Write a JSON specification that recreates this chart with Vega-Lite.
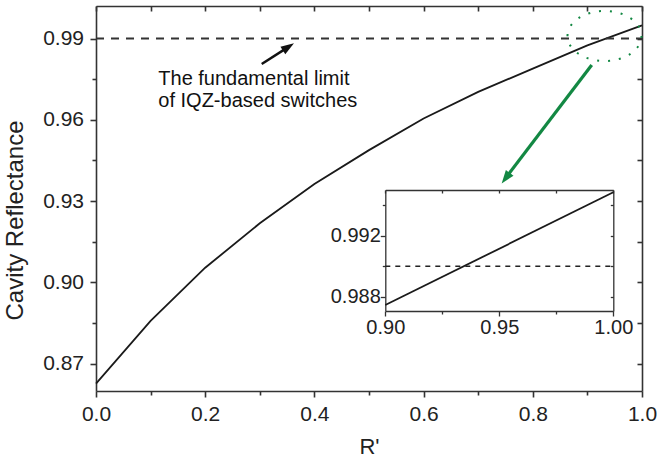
{
  "$schema": "https://vega.github.io/schema/vega-lite/v6.json",
  "autosize": {"type": "none"},
  "padding": {"left": 96, "top": 6, "right": 17, "bottom": 68},
  "width": 546,
  "height": 385,
  "background": "white",
  "config": {
    "view": {"stroke": null},
    "axis": {
      "grid": false,
      "labelFont": "Liberation Sans",
      "titleFont": "Liberation Sans",
      "titleFontWeight": "normal",
      "labelColor": "#222222",
      "titleColor": "#222222",
      "domainColor": "#333333",
      "tickColor": "#333333",
      "domainWidth": 1.6,
      "tickWidth": 1.6,
      "labelFlush": false,
      "labelOverlap": false
    }
  },
  "datasets": {
    "curve": [
      {"x": 0.0, "y": 0.8626},
      {"x": 0.1, "y": 0.8858},
      {"x": 0.2, "y": 0.9054},
      {"x": 0.3, "y": 0.9218},
      {"x": 0.4, "y": 0.9363},
      {"x": 0.5, "y": 0.9488},
      {"x": 0.6, "y": 0.9605},
      {"x": 0.7, "y": 0.9703},
      {"x": 0.8, "y": 0.9789},
      {"x": 0.9, "y": 0.98745},
      {"x": 1.0, "y": 0.99485}
    ],
    "limit": [{"x": 0, "y": 0.99}, {"x": 1, "y": 0.99}],
    "insetLimit": [{"x": 0.9, "y": 0.99}, {"x": 1.0, "y": 0.99}],
    "notes": [
      {"x": 0.1141, "y": 0.97283, "t": "The fundamental limit"},
      {"x": 0.1141, "y": 0.96471, "t": "of IQZ-based switches"}
    ],
    "blackArrow": [{"x": 0.3035, "y": 0.98058}, {"x": 0.3504, "y": 0.98664}],
    "blackHead": [{"x": 0.3626, "y": 0.98823}],
    "greenArrow": [{"x": 0.9079, "y": 0.98022}, {"x": 0.7518, "y": 0.9389}],
    "greenHead": [{"x": 0.743, "y": 0.93653}],
    "ellipse": [{"x": 0.9313, "y": 0.99092}]
  },
  "resolve": {"scale": {"x": "independent", "y": "independent"}},
  "layer": [
    {
      "data": {"name": "curve"},
      "mark": {"type": "line", "color": "#1a1a1a", "strokeWidth": 1.8},
      "encoding": {
        "x": {"field": "x", "type": "quantitative",
          "scale": {"domain": [0, 1], "nice": false, "zero": false},
          "axis": {"orient": "bottom", "values": [0, 0.2, 0.4, 0.6, 0.8, 1], "format": ".1f", "tickSize": 6,
            "labelFontSize": 21, "labelBaseline": "alphabetic", "labelPadding": 23,
            "title": "R'", "titleFontSize": 22, "titleBaseline": "alphabetic", "titleY": 62.5}},
        "y": {"field": "y", "type": "quantitative",
          "scale": {"domain": [0.8599, 1.002], "nice": false, "zero": false},
          "axis": {"orient": "left", "values": [0.87, 0.9, 0.93, 0.96, 0.99], "format": ".2f", "tickSize": 6,
            "labelPadding": 6.5, "labelFontSize": 21,
            "title": "Cavity Reflectance", "titleFontSize": 24, "titleAngle": 270, "titleBaseline": "alphabetic",
            "titleAlign": "center", "titleX": -74, "titleY": 214}}
      }
    },
    {
      "data": {"name": "curve"},
      "mark": {"type": "line", "strokeOpacity": 0},
      "encoding": {
        "x": {"field": "x", "type": "quantitative",
          "scale": {"domain": [0, 1], "nice": false, "zero": false},
          "axis": {"orient": "bottom", "values": [0.1, 0.3, 0.5, 0.7, 0.9], "tickSize": 4, "labels": false, "domain": false, "title": null}},
        "y": {"field": "y", "type": "quantitative",
          "scale": {"domain": [0.8599, 1.002], "nice": false, "zero": false},
          "axis": {"orient": "left", "values": [0.885, 0.915, 0.945, 0.975], "tickSize": 4, "labels": false, "domain": false, "title": null}}
      }
    },
    {
      "data": {"name": "limit"},
      "mark": {"type": "line", "color": "#333333", "strokeWidth": 1.8, "strokeDash": [8, 7]},
      "encoding": {
        "x": {"field": "x", "type": "quantitative",
          "scale": {"domain": [0, 1], "nice": false, "zero": false},
          "axis": {"orient": "top", "values": [0, 0.1, 0.2, 0.3, 0.4, 0.5, 0.6, 0.7, 0.8, 0.9, 1], "tickSize": -5, "labels": false, "title": null}},
        "y": {"field": "y", "type": "quantitative",
          "scale": {"domain": [0.8599, 1.002], "nice": false, "zero": false},
          "axis": {"orient": "right", "values": [0.87, 0.885, 0.9, 0.915, 0.93, 0.945, 0.96, 0.975, 0.99], "tickSize": -5, "labels": false, "title": null}}
      }
    },
    {
      "data": {"name": "curve"},
      "transform": [{"filter": "datum.x >= 0.9"}],
      "mark": {"type": "line", "color": "#1a1a1a", "strokeWidth": 1.8},
      "encoding": {
        "x": {"field": "x", "type": "quantitative",
          "scale": {"domain": [0.9, 1.0], "range": [289.3, 517.3], "nice": false, "zero": false},
          "axis": {"orient": "bottom", "offset": -80, "values": [0.9, 0.95, 1.0], "format": ".2f", "tickSize": 5,
            "labelFontSize": 20, "labelBaseline": "alphabetic", "labelPadding": 17, "title": null, "domainWidth": 1.3, "tickWidth": 1.3}},
        "y": {"field": "y", "type": "quantitative",
          "scale": {"domain": [0.98706, 0.995], "range": [305, 184], "nice": false, "zero": false},
          "axis": {"orient": "left", "offset": -289.3, "values": [0.988, 0.992], "format": ".3f", "tickSize": 5,
            "labelFontSize": 20, "labelPadding": 0, "title": null, "domainWidth": 1.3, "tickWidth": 1.3}}
      }
    },
    {
      "data": {"name": "curve"},
      "transform": [{"filter": "datum.x >= 0.9"}],
      "mark": {"type": "line", "strokeOpacity": 0},
      "encoding": {
        "x": {"field": "x", "type": "quantitative",
          "scale": {"domain": [0.9, 1.0], "range": [289.3, 517.3], "nice": false, "zero": false},
          "axis": {"orient": "bottom", "offset": -80, "values": [0.925, 0.975], "tickSize": 3, "labels": false, "domain": false, "title": null, "tickWidth": 1.3}},
        "y": {"field": "y", "type": "quantitative",
          "scale": {"domain": [0.98706, 0.995], "range": [305, 184], "nice": false, "zero": false},
          "axis": {"orient": "left", "offset": -289.3, "values": [0.99, 0.994], "tickSize": 3, "labels": false, "domain": false, "title": null, "tickWidth": 1.3}}
      }
    },
    {
      "data": {"name": "insetLimit"},
      "mark": {"type": "line", "color": "#222222", "strokeWidth": 1.5, "strokeDash": [5, 5]},
      "encoding": {
        "x": {"field": "x", "type": "quantitative",
          "scale": {"domain": [0.9, 1.0], "range": [289.3, 517.3], "nice": false, "zero": false},
          "axis": {"orient": "top", "offset": -184, "values": [0.9, 0.925, 0.95, 0.975, 1.0], "tickSize": -3, "labels": false, "title": null, "domainWidth": 1.3, "tickWidth": 1.3}},
        "y": {"field": "y", "type": "quantitative",
          "scale": {"domain": [0.98706, 0.995], "range": [305, 184], "nice": false, "zero": false},
          "axis": {"orient": "right", "offset": -28.7, "values": [0.988, 0.99, 0.992, 0.994], "tickSize": -3, "labels": false, "title": null, "domainWidth": 1.3, "tickWidth": 1.3}}
      }
    },
    {
      "data": {"name": "notes"},
      "mark": {"type": "text", "align": "left", "baseline": "alphabetic", "font": "Liberation Sans", "fontSize": 20, "color": "#111111"},
      "encoding": {
        "x": {"field": "x", "type": "quantitative", "scale": {"domain": [0, 1], "nice": false, "zero": false}, "axis": null},
        "y": {"field": "y", "type": "quantitative", "scale": {"domain": [0.8599, 1.002], "nice": false, "zero": false}, "axis": null},
        "text": {"field": "t"}
      }
    },
    {
      "data": {"name": "blackArrow"},
      "mark": {"type": "line", "color": "#111111", "strokeWidth": 2.5},
      "encoding": {
        "x": {"field": "x", "type": "quantitative", "scale": {"domain": [0, 1], "nice": false, "zero": false}, "axis": null},
        "y": {"field": "y", "type": "quantitative", "scale": {"domain": [0.8599, 1.002], "nice": false, "zero": false}, "axis": null}
      }
    },
    {
      "data": {"name": "blackHead"},
      "mark": {"type": "point", "shape": "M0,0 L-0.75,2.2 L0.75,2.2 Z", "size": 144, "angle": 57.3, "filled": true, "color": "#111111", "opacity": 1, "strokeWidth": 0},
      "encoding": {
        "x": {"field": "x", "type": "quantitative", "scale": {"domain": [0, 1], "nice": false, "zero": false}, "axis": null},
        "y": {"field": "y", "type": "quantitative", "scale": {"domain": [0.8599, 1.002], "nice": false, "zero": false}, "axis": null}
      }
    },
    {
      "data": {"name": "greenArrow"},
      "mark": {"type": "line", "color": "#138843", "strokeWidth": 3.2},
      "encoding": {
        "x": {"field": "x", "type": "quantitative", "scale": {"domain": [0, 1], "nice": false, "zero": false}, "axis": null},
        "y": {"field": "y", "type": "quantitative", "scale": {"domain": [0.8599, 1.002], "nice": false, "zero": false}, "axis": null}
      }
    },
    {
      "data": {"name": "greenHead"},
      "mark": {"type": "point", "shape": "M0,0 L-0.8,2.2 L0.8,2.2 Z", "size": 144, "angle": 217.3, "filled": true, "color": "#138843", "opacity": 1, "strokeWidth": 0},
      "encoding": {
        "x": {"field": "x", "type": "quantitative", "scale": {"domain": [0, 1], "nice": false, "zero": false}, "axis": null},
        "y": {"field": "y", "type": "quantitative", "scale": {"domain": [0.8599, 1.002], "nice": false, "zero": false}, "axis": null}
      }
    },
    {
      "data": {"name": "ellipse"},
      "mark": {"type": "point", "shape": "M-1,0 A1,0.676 0 1,1 1,0 A1,0.676 0 1,1 -1,0 Z", "size": 5476, "filled": false, "stroke": "#138843", "strokeWidth": 2, "strokeDash": [2, 8.9], "opacity": 1},
      "encoding": {
        "x": {"field": "x", "type": "quantitative", "scale": {"domain": [0, 1], "nice": false, "zero": false}, "axis": null},
        "y": {"field": "y", "type": "quantitative", "scale": {"domain": [0.8599, 1.002], "nice": false, "zero": false}, "axis": null}
      }
    }
  ]
}
